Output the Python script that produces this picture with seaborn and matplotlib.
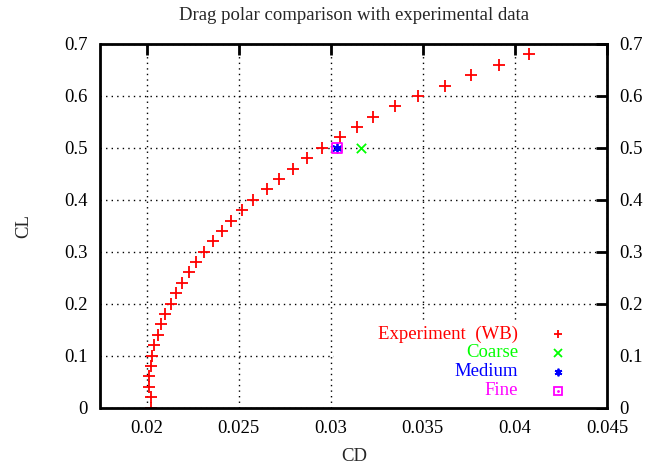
import matplotlib
matplotlib.use("Agg")
import matplotlib.pyplot as plt
import seaborn as sns
import pandas as pd
from matplotlib.patches import Rectangle

# ---- data ----
exp_cl = [0.00, 0.02, 0.04, 0.06, 0.08, 0.10, 0.12, 0.14, 0.16, 0.18,
          0.20, 0.22, 0.24, 0.26, 0.28, 0.30, 0.32, 0.34, 0.36, 0.38,
          0.40, 0.42, 0.44, 0.46, 0.48, 0.50, 0.52, 0.54, 0.56, 0.58,
          0.60, 0.62, 0.64, 0.66, 0.68]
exp_cd = [0.02022, 0.02022, 0.02012, 0.02012, 0.02022, 0.02031, 0.02042, 0.02061, 0.02081, 0.02101,
          0.02132, 0.02161, 0.02193, 0.02229, 0.02270, 0.02310, 0.02361, 0.02411, 0.02461, 0.02519,
          0.02578, 0.02652, 0.02719, 0.02793, 0.02870, 0.02951, 0.03052, 0.03141, 0.03229, 0.03351,
          0.03472, 0.03620, 0.03761, 0.03912, 0.04079]
coarse_cd = [0.03164]
coarse_cl = [0.50]
medium_cd = [0.03036]
medium_cl = [0.50]
fine_cd = [0.03036]
fine_cl = [0.50]

labels = ["Experiment  (WB)", "Coarse", "Medium", "Fine"]
colors = ["#ff0000", "#00ff00", "#0000ff", "#ff00ff"]

xticks = [0.02, 0.025, 0.03, 0.035, 0.04, 0.045]
xticklabels = ["0.02", "0.025", "0.03", "0.035", "0.04", "0.045"]
yticks = [0, 0.1, 0.2, 0.3, 0.4, 0.5, 0.6, 0.7]
yticklabels = ["0", "0.1", "0.2", "0.3", "0.4", "0.5", "0.6", "0.7"]

sns.set_style("white")
plt.rcParams['font.family'] = ['Liberation Serif', 'DejaVu Serif']
FS = 13.5
plt.rcParams['font.size'] = FS

fig = plt.figure(figsize=(6.63, 4.68), dpi=100)
L, R, T, B = 100.5, 607, 44, 407.5
ax = fig.add_axes([L/663, 1-B/468, (R-L)/663, (B-T)/468])

exp_df = pd.DataFrame({"CD": exp_cd, "CL": exp_cl})
sns.scatterplot(data=exp_df, x="CD", y="CL", ax=ax, marker="+", s=75,
                color=colors[0], linewidth=1.3, zorder=3)
sns.scatterplot(x=coarse_cd, y=coarse_cl, ax=ax, marker="x", s=45,
                color=colors[1], linewidth=1.3, zorder=3)
sns.scatterplot(x=medium_cd, y=medium_cl, ax=ax, marker=(6, 2, 0), s=40,
                color=colors[2], linewidth=1.3, zorder=4)
sns.scatterplot(x=fine_cd, y=fine_cl, ax=ax, marker="s", s=52,
                facecolor="none", edgecolor=colors[3], linewidth=1.3, zorder=5)

ax.set_xlim(0.0175, 0.045)
ax.set_ylim(0, 0.7)
ax.set_xticks(xticks)
ax.set_xticklabels(xticklabels)
ax.set_yticks(yticks)
ax.set_yticklabels(yticklabels)

ax.grid(True, color="black", linestyle=(0, (1, 3)), linewidth=1.0, zorder=1)
ax.set_axisbelow(True)
for sp in ax.spines.values():
    sp.set_linewidth(2)
    sp.set_color("black")
    sp.set_zorder(10)

ax.tick_params(axis="both", direction="in", length=8, width=2, pad=9,
               top=True, right=True, labelright=True, labeltop=False,
               labelsize=FS, colors="black")

ax.set_xlabel("CD", fontsize=FS, labelpad=8)
ax.set_ylabel("CL", fontsize=FS, labelpad=23)
ax.set_title("Drag polar comparison with experimental data", fontsize=FS, pad=17)

# opaque key box covering the grid
ax.add_patch(Rectangle((0.461, 0.0), 0.539, 0.237, transform=ax.transAxes,
                       facecolor="white", edgecolor="none", zorder=2))

rows_px = [334, 352.7, 371.7, 390.7]
rows_y = [(B - p) / (B - T) for p in rows_px]
tx = (518 - L) / (R - L)
mx = (558 - L) / (R - L)
mk_specs = [dict(marker="+", ms=6, mew=1.3, color=colors[0]),
            dict(marker="x", ms=5.5, mew=1.3, color=colors[1]),
            dict(marker=(6, 2, 0), ms=5.5, mew=1.3, color=colors[2]),
            dict(marker="s", ms=5.5, mew=1.3, color=colors[3], mfc="none")]
for lab, col, yy, spec in zip(labels, colors, rows_y, mk_specs):
    ax.text(tx, yy, lab, transform=ax.transAxes, ha="right", va="center",
            color=col, fontsize=FS, zorder=6)
    ax.plot([mx], [yy], transform=ax.transAxes, linestyle="none", zorder=6,
            clip_on=False, **spec)
ax.plot([mx], [rows_y[3]], transform=ax.transAxes, linestyle="none",
        marker=".", ms=2, color=colors[3], zorder=6)

fig.savefig("out.png", dpi=100)
